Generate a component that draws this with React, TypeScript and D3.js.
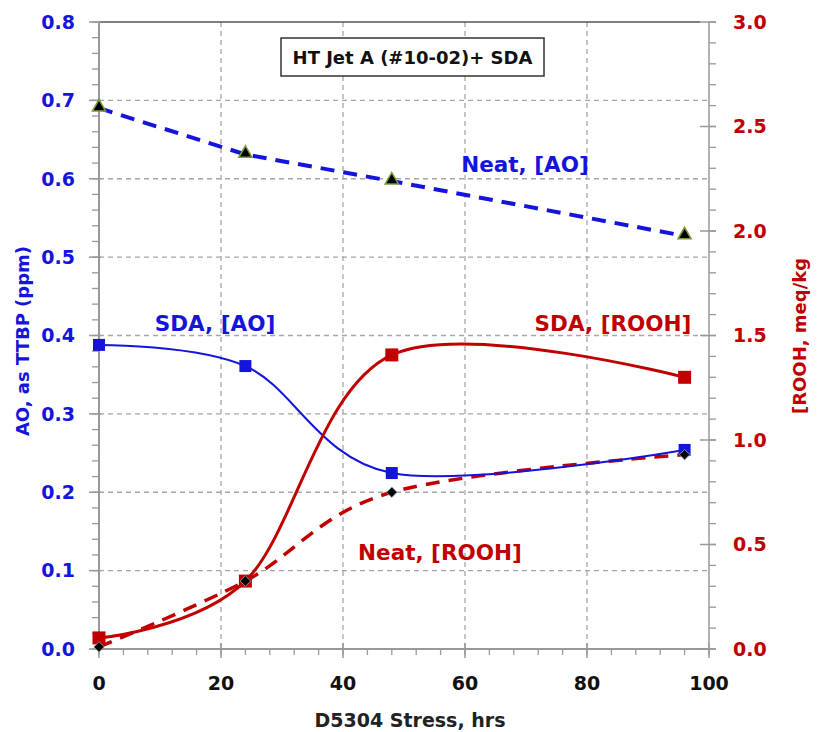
import React from "react";
import * as d3 from "d3";

const hours = [0, 24, 48, 96];
const neatAO = [0.69, 0.631, 0.597, 0.527];
const sdaAO = [0.388, 0.361, 0.2245, 0.254];
const sdaROOH = [0.053, 0.325, 1.407, 1.3];
const neatROOH = [0.01, 0.325, 0.75, 0.93];

const xTicks = [0, 20, 40, 60, 80, 100];
const leftTicks = [0, 0.1, 0.2, 0.3, 0.4, 0.5, 0.6, 0.7, 0.8];
const rightTicks = [0, 0.5, 1.0, 1.5, 2.0, 2.5, 3.0];

const BLUE = "#1414dc";
const RED = "#c00000";
const FONT = "'DejaVu Sans', sans-serif";

export default function App() {
  const W = 820, H = 732;
  const x = d3.scaleLinear().domain([0, 100]).range([99, 709]);
  const yL = d3.scaleLinear().domain([0, 0.8]).range([649, 22]);
  const yR = d3.scaleLinear().domain([0, 3]).range([649, 22]);

  const lineL = d3.line<number>().x((_, i) => x(hours[i])).curve(d3.curveCardinal.tension(0));
  const pathL = (vals: number[]) => lineL.y((v) => yL(v))(vals) || "";
  const pathR = (vals: number[]) => lineL.y((v) => yR(v))(vals) || "";
  const straightL = d3.line<number>().x((_, i) => x(hours[i])).y((v) => yL(v));

  const minorL = d3.range(0, 0.8001, 0.02);
  const minorR = d3.range(0, 3.0001, 0.1);
  const minorX = d3.range(0, 100.001, 4);

  const tri = d3.symbol().type(d3.symbolTriangle).size(75)() || "";
  const dia = d3.symbol().type(d3.symbolSquare).size(55)() || "";

  return (
    <svg width={W} height={H} style={{ position: "absolute", left: 0, top: 0, background: "#fff" }} fontFamily={FONT}>
      {xTicks.slice(1, -1).map((t) => (
        <line key={"gx" + t} x1={x(t)} x2={x(t)} y1={22} y2={649} stroke="#a6a6a6" strokeWidth={1.3} strokeDasharray="5,4" />
      ))}
      {leftTicks.slice(1, -1).map((t) => (
        <line key={"gy" + t} x1={99} x2={709} y1={yL(t)} y2={yL(t)} stroke="#a6a6a6" strokeWidth={1.3} strokeDasharray="5,4" />
      ))}
      <line x1={99} x2={700} y1={22} y2={22} stroke="#555" strokeWidth={1.5} />
      <line x1={99} x2={99} y1={22} y2={649} stroke="#999" strokeWidth={2} />
      <line x1={709} x2={709} y1={22} y2={649} stroke="#999" strokeWidth={1.5} />
      <line x1={99} x2={709} y1={649} y2={649} stroke="#999" strokeWidth={2} />
      {minorL.map((t) => (
        <line key={"ml" + t} x1={92} x2={99} y1={yL(t)} y2={yL(t)} stroke="#999" strokeWidth={1.3} />
      ))}
      {leftTicks.map((t) => (
        <g key={"lt" + t}>
          <line x1={89} x2={101} y1={yL(t)} y2={yL(t)} stroke="#999" strokeWidth={1.5} />
          <text x={75} y={yL(t)} dy="0.36em" textAnchor="end" fill={BLUE} fontSize={19} fontWeight="bold">{t.toFixed(1)}</text>
        </g>
      ))}
      {minorR.map((t) => (
        <line key={"mr" + t} x1={709} x2={716} y1={yR(t)} y2={yR(t)} stroke="#999" strokeWidth={1.3} />
      ))}
      {rightTicks.map((t) => (
        <g key={"rt" + t}>
          <line x1={700} x2={716} y1={yR(t)} y2={yR(t)} stroke="#999" strokeWidth={1.5} />
          <text x={733} y={yR(t)} dy="0.36em" textAnchor="start" fill={RED} fontSize={19} fontWeight="bold">{t.toFixed(1)}</text>
        </g>
      ))}
      {minorX.map((t) => (
        <line key={"mx" + t} x1={x(t)} x2={x(t)} y1={649} y2={655} stroke="#999" strokeWidth={1.3} />
      ))}
      {xTicks.map((t) => (
        <g key={"xt" + t}>
          <line x1={x(t)} x2={x(t)} y1={643} y2={658} stroke="#999" strokeWidth={1.5} />
          <text x={x(t)} y={690} textAnchor="middle" fill="#111" fontSize={19} fontWeight="bold">{t}</text>
        </g>
      ))}
      <text x={410} y={727} textAnchor="middle" fill="#222" fontSize={19} fontWeight="bold">D5304 Stress, hrs</text>
      <text transform={`translate(29,341) rotate(-90)`} textAnchor="middle" fill={BLUE} fontSize={18} fontWeight="bold">AO, as TTBP (ppm)</text>
      <text transform={`translate(806,336) rotate(-90)`} textAnchor="middle" fill={RED} fontSize={18} fontWeight="bold">[ROOH, meq/kg</text>
      <rect x={281} y={38} width={263} height={38} fill="#fff" stroke="#333" strokeWidth={1.5} />
      <text x={412.5} y={64} textAnchor="middle" fill="#111" fontSize={18} fontWeight="bold">HT Jet A (#10-02)+ SDA</text>

      <path d={straightL(neatAO) || ""} fill="none" stroke={BLUE} strokeWidth={4} strokeDasharray="14,9" />
      <path d={pathR(neatROOH)} fill="none" stroke={RED} strokeWidth={3.5} strokeDasharray="14,9" />
      <path d={pathL(sdaAO)} fill="none" stroke={BLUE} strokeWidth={2} />
      <path d={pathR(sdaROOH)} fill="none" stroke={RED} strokeWidth={3} />

      {neatAO.map((v, i) => (
        <path key={"t" + i} d={tri} transform={`translate(${x(hours[i])},${yL(v) - 1})`} fill="#000" stroke="#7a9a3a" strokeWidth={1.5} />
      ))}
      {sdaAO.map((v, i) => (
        <rect key={"sb" + i} x={x(hours[i]) - 6} y={yL(v) - 6} width={12} height={12} fill={BLUE} />
      ))}
      {sdaROOH.map((v, i) => (
        <rect key={"sr" + i} x={x(hours[i]) - 6.5} y={yR(v) - 6.5} width={13} height={13} fill={RED} />
      ))}
      {neatROOH.map((v, i) => (
        <path key={"d" + i} d={dia} transform={`translate(${x(hours[i])},${yR(v)}) rotate(45)`} fill="#000" stroke="#8ab" strokeWidth={0.8} />
      ))}

      <text x={525} y={172} textAnchor="middle" fill={BLUE} fontSize={21.5} fontWeight="bold">Neat, [AO]</text>
      <text x={215} y={331} textAnchor="middle" fill={BLUE} fontSize={21.5} fontWeight="bold">SDA, [AO]</text>
      <text x={613} y={331} textAnchor="middle" fill={RED} fontSize={21.5} fontWeight="bold">SDA, [ROOH]</text>
      <text x={440} y={560} textAnchor="middle" fill={RED} fontSize={21.5} fontWeight="bold">Neat, [ROOH]</text>
    </svg>
  );
}
